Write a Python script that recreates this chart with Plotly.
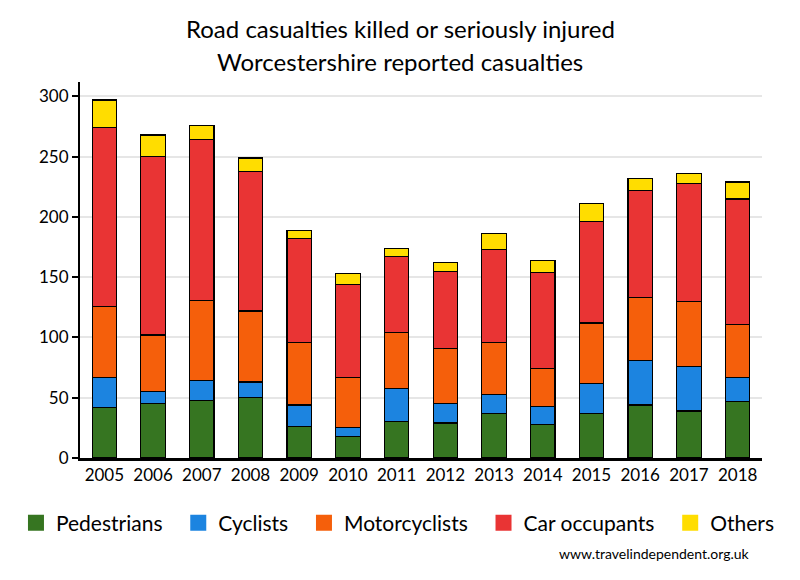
import plotly.graph_objects as go

years = ["2005", "2006", "2007", "2008", "2009", "2010", "2011", "2012", "2013", "2014", "2015", "2016", "2017", "2018"]
pedestrians = [42, 45, 48, 50, 26, 18, 30, 29, 37, 28, 37, 44, 39, 47]
cyclists = [25, 10, 16, 13, 18, 7, 28, 16, 16, 15, 25, 37, 37, 20]
motorcyclists = [59, 47, 67, 59, 52, 42, 46, 46, 43, 31, 50, 52, 54, 44]
car_occupants = [148, 148, 133, 116, 86, 77, 63, 64, 77, 80, 84, 89, 98, 104]
others = [23, 18, 12, 11, 7, 9, 7, 7, 13, 10, 15, 10, 8, 14]

series = [
    ("Pedestrians", pedestrians, "#367521"),
    ("Cyclists", cyclists, "#1C84E0"),
    ("Motorcyclists", motorcyclists, "#F55F0B"),
    ("Car occupants", car_occupants, "#E93434"),
    ("Others", others, "#FFDD00"),
]

font_family = "Lato, 'Open Sans', sans-serif"
pad = "\u00a0" * 2

fig = go.Figure()
for name, vals, col in series:
    fig.add_trace(go.Bar(
        x=years, y=vals, name=name, showlegend=False,
        marker=dict(color=col, line=dict(color="black", width=1.2)),
    ))
# legend entries (larger square swatches)
for i, (name, vals, col) in enumerate(series):
    fig.add_trace(go.Scatter(
        x=[None], y=[None], mode="markers",
        name=name + (pad if i < len(series) - 1 else ""),
        marker=dict(symbol="square", size=16, color=col),
    ))

fig.update_layout(
    barmode="stack",
    bargap=0.5,
    width=800, height=580,
    margin=dict(l=10, r=10, t=82, b=122),
    paper_bgcolor="white", plot_bgcolor="white",
    font=dict(family=font_family, color="black"),
    legend=dict(
        orientation="h", x=0.4974, xanchor="center", y=-0.173, yanchor="middle",
        font=dict(size=21, family=font_family),
        itemsizing="trace", traceorder="normal",
    ),
    xaxis=dict(
        domain=[70 / 780, 752 / 780],
        showline=True, linecolor="black", linewidth=3,
        tickfont=dict(size=17), ticks="", showgrid=False,
    ),
    yaxis=dict(
        range=[0, 312], tickvals=[0, 50, 100, 150, 200, 250, 300],
        showline=True, linecolor="black", linewidth=2,
        showgrid=True, gridcolor="#E6E6E6", gridwidth=2,
        tickfont=dict(size=17), ticks="outside", ticklen=6, tickwidth=1.5,
        tickcolor="black", zeroline=False,
    ),
)

fig.add_annotation(
    text="Road casualties killed or seriously injured", xref="paper", yref="paper",
    x=0.5, xanchor="center", y=1.1436, yanchor="middle", showarrow=False,
    font=dict(size=24, family=font_family, color="black"),
)
fig.add_annotation(
    text="Worcestershire reported casualties", xref="paper", yref="paper",
    x=0.5, xanchor="center", y=1.0532, yanchor="middle", showarrow=False,
    font=dict(size=24, family=font_family, color="black"),
)
fig.add_annotation(
    text="www.travelindependent.org.uk", xref="paper", yref="paper",
    x=742 / 780, xanchor="right", y=-0.2527, yanchor="middle", showarrow=False,
    font=dict(size=14, family=font_family, color="black"),
)

fig.write_html("out.html", config={"displayModeBar": False},
               post_script="document.body.style.margin='0';")
